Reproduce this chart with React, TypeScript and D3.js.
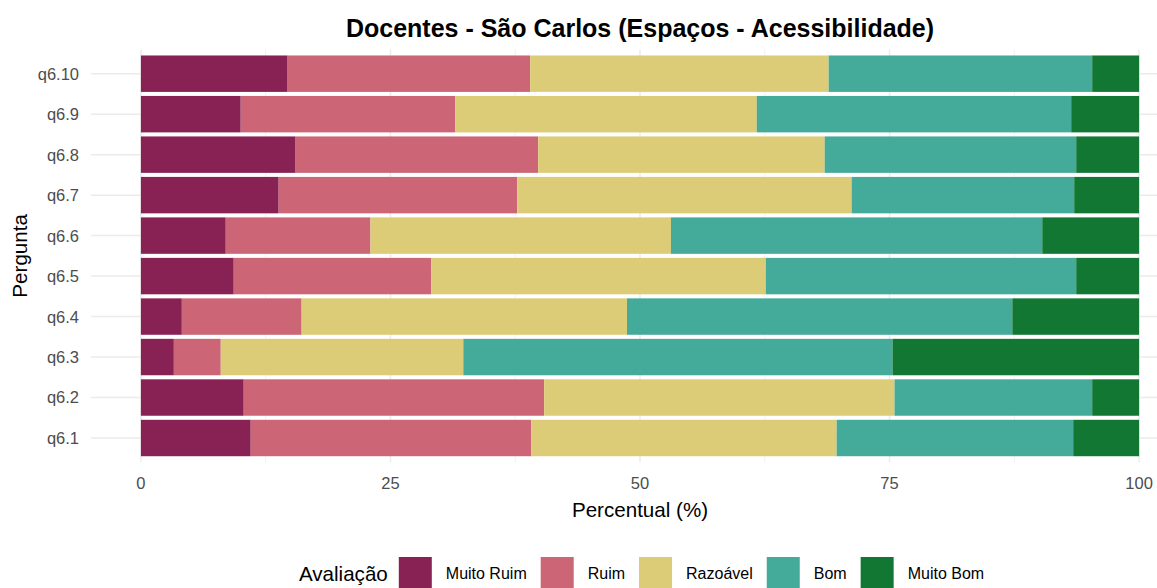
import React, { useEffect, useRef } from 'react';
import * as d3 from 'd3';

const categories = ['q6.1', 'q6.2', 'q6.3', 'q6.4', 'q6.5', 'q6.6', 'q6.7', 'q6.8', 'q6.9', 'q6.10'];
const levels = ['Muito Ruim', 'Ruim', 'Razoável', 'Bom', 'Muito Bom'];
const levelColors = ['#882255', '#CC6677', '#DDCC77', '#44AA99', '#117733'];

// percent per question, same order as categories
const muitoRuim = [11.0, 10.3, 3.3, 4.1, 9.3, 8.5, 13.8, 15.5, 10.0, 14.7];
const ruim = [28.1, 30.1, 4.7, 12.0, 19.8, 14.5, 23.9, 24.3, 21.5, 24.3];
const razoavel = [30.6, 35.1, 24.3, 32.6, 33.5, 30.1, 33.5, 28.7, 30.2, 29.9];
const bom = [23.7, 19.8, 43.0, 38.6, 31.1, 37.2, 22.3, 25.2, 31.5, 26.4];
const muitoBom = [6.6, 4.7, 24.7, 12.7, 6.3, 9.7, 6.5, 6.3, 6.8, 4.7];

const xTicks = [0, 25, 50, 75, 100];
const xMinorTicks = [12.5, 37.5, 62.5, 87.5];

const W = 1157;
const H = 588;
const FONT = "'Liberation Sans', Arial, sans-serif";

const App = () => {
  const ref = useRef<SVGSVGElement | null>(null);

  useEffect(() => {
    const svg = d3.select(ref.current);
    svg.selectAll('*').remove();

    const panel = { left: 91, right: 1189, top: 49.4, bottom: 462.3 };

    const x = d3.scaleLinear().domain([-5, 105]).range([panel.left, panel.right]);
    const y = d3.scalePoint<string>()
      .domain(categories.slice().reverse())
      .range([panel.top, panel.bottom])
      .padding(0.6);
    const barH = y.step() * 0.9;

    const rows = categories.map((c, i) => ({
      cat: c,
      'Muito Ruim': muitoRuim[i],
      'Ruim': ruim[i],
      'Razoável': razoavel[i],
      'Bom': bom[i],
      'Muito Bom': muitoBom[i],
    }));
    const series = d3.stack<any>().keys(levels)(rows);
    const color = d3.scaleOrdinal<string, string>().domain(levels).range(levelColors);

    // grid
    const grid = svg.append('g');
    grid.selectAll('line.minor')
      .data(xMinorTicks)
      .join('line')
      .attr('x1', d => x(d)).attr('x2', d => x(d))
      .attr('y1', panel.top).attr('y2', panel.bottom)
      .attr('stroke', '#F2F2F2').attr('stroke-width', 1);
    grid.selectAll('line.major')
      .data(xTicks)
      .join('line')
      .attr('x1', d => x(d)).attr('x2', d => x(d))
      .attr('y1', panel.top).attr('y2', panel.bottom)
      .attr('stroke', '#EBEBEB').attr('stroke-width', 1.5);
    grid.selectAll('line.hz')
      .data(categories)
      .join('line')
      .attr('x1', panel.left).attr('x2', panel.right)
      .attr('y1', d => y(d)!).attr('y2', d => y(d)!)
      .attr('stroke', '#EBEBEB').attr('stroke-width', 1.5);

    // bars
    svg.append('g')
      .selectAll('g')
      .data(series)
      .join('g')
      .attr('fill', d => color(d.key))
      .selectAll('rect')
      .data(d => d)
      .join('rect')
      .attr('x', d => x(d[0]))
      .attr('width', d => x(d[1]) - x(d[0]))
      .attr('y', d => y(d.data.cat)! - barH / 2)
      .attr('height', barH);

    // y tick labels
    svg.append('g')
      .selectAll('text')
      .data(categories)
      .join('text')
      .attr('x', 79)
      .attr('y', d => y(d)!)
      .attr('dy', '0.36em')
      .attr('text-anchor', 'end')
      .attr('font-family', FONT)
      .attr('font-size', 16.5)
      .attr('fill', '#4D4D4D')
      .text(d => d);

    // x tick labels
    svg.append('g')
      .selectAll('text')
      .data(xTicks)
      .join('text')
      .attr('x', d => x(d))
      .attr('y', 489)
      .attr('text-anchor', 'middle')
      .attr('font-family', FONT)
      .attr('font-size', 16.5)
      .attr('fill', '#4D4D4D')
      .text(d => d);

    // axis titles
    svg.append('text')
      .attr('x', 640).attr('y', 517)
      .attr('text-anchor', 'middle')
      .attr('font-family', FONT).attr('font-size', 20.6)
      .attr('fill', '#000')
      .text('Percentual (%)');
    svg.append('text')
      .attr('transform', `translate(27,${(panel.top + panel.bottom) / 2}) rotate(-90)`)
      .attr('text-anchor', 'middle')
      .attr('font-family', FONT).attr('font-size', 20.6)
      .attr('fill', '#000')
      .text('Pergunta');

    // title
    svg.append('text')
      .attr('x', 640).attr('y', 37)
      .attr('text-anchor', 'middle')
      .attr('font-family', FONT).attr('font-size', 25).attr('font-weight', 'bold')
      .attr('fill', '#000')
      .text('Docentes - São Carlos (Espaços - Acessibilidade)');

    // legend
    const legend = svg.append('g');
    const legY = 573.5;
    const keySize = 33;
    const title = legend.append('text')
      .attr('y', legY).attr('dy', '0.36em')
      .attr('font-family', FONT).attr('font-size', 20.6)
      .attr('fill', '#000')
      .text('Avaliação');
    let cx = (title.node() as SVGTextElement).getComputedTextLength() + 11;
    levels.forEach((lv, i) => {
      legend.append('rect')
        .attr('x', cx).attr('y', legY - keySize / 2)
        .attr('width', keySize).attr('height', keySize)
        .attr('fill', color(lv));
      cx += keySize + 14;
      const t = legend.append('text')
        .attr('x', cx).attr('y', legY).attr('dy', '0.36em')
        .attr('font-family', FONT).attr('font-size', 16)
        .attr('fill', '#000')
        .text(lv);
      cx += (t.node() as SVGTextElement).getComputedTextLength();
      if (i < levels.length - 1) cx += 14;
    });
    legend.attr('transform', `translate(${641.5 - cx / 2},0)`);
  }, []);

  return (
    <svg
      ref={ref}
      width={W}
      height={H}
      style={{ position: 'absolute', left: 0, top: 0, background: '#fff' }}
    />
  );
};

export default App;
